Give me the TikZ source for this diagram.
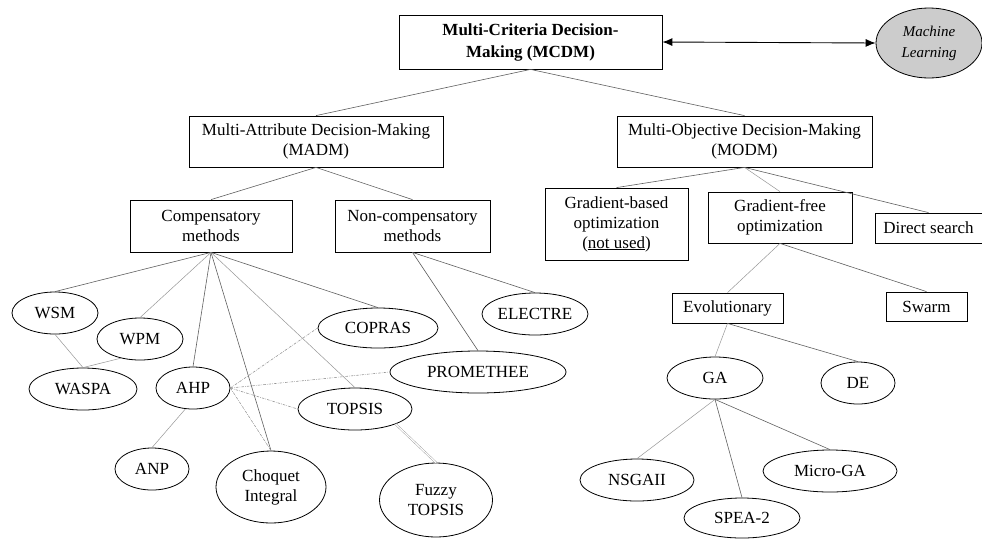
\documentclass[tikz,border=0pt]{standalone}
\usepackage{fontspec}
\setmainfont{Liberation Serif}
\usepackage{tikz}
\usetikzlibrary{arrows.meta,shapes.geometric,positioning}
\definecolor{mlgray}{RGB}{204,204,204}
\definecolor{linegray}{RGB}{95,95,95}
\definecolor{lightline}{RGB}{150,150,150}

\begin{document}
\begin{tikzpicture}[x=1pt, y=-1pt,
    font=\fontsize{17}{20}\selectfont,
    box/.style={draw, rectangle, line width=0.8pt, align=center, inner sep=0pt},
    oval/.style={draw, ellipse, line width=0.8pt, align=center, inner sep=0pt},
    link/.style={draw=linegray, line width=0.6pt},
    faint/.style={draw=lightline, line width=0.5pt},
    dotlink/.style={draw=lightline, line width=0.6pt, dash pattern=on 2.5pt off 1.2pt on 0.6pt off 1.2pt}]
    \useasboundingbox (0,0) rectangle (982,539);

    % Top level
    \node[box, minimum width=263pt, minimum height=54pt, font=\fontsize{17}{22}\selectfont\bfseries] (mcdm) at (530.5,42) {Multi-Criteria Decision-\\Making (MCDM)};
    \node[oval, fill=mlgray, minimum width=106pt, minimum height=70pt, font=\fontsize{15}{21}\selectfont\itshape] (ml) at (929,43) {Machine\\Learning};
    \draw[{Latex[length=10pt,width=8pt]}-{Latex[length=10pt,width=8pt]}, line width=0.9pt] (mcdm.east) -- (ml.west);

    % Second level
    \node[box, minimum width=254pt, minimum height=51pt] (madm) at (316,141.5) {Multi-Attribute Decision-Making\\(MADM)};
    \node[box, minimum width=255pt, minimum height=51pt] (modm) at (744.5,141.5) {Multi-Objective Decision-Making\\(MODM)};
    \draw[link] (mcdm.south) -- (madm.north);
    \draw[link] (mcdm.south) -- (modm.north);

    % MADM branch
    \node[box, minimum width=162pt, minimum height=52pt] (comp) at (211,226) {Compensatory\\methods};
    \node[box, minimum width=155pt, minimum height=52pt] (noncomp) at (412.5,226) {Non-compensatory\\methods};
    \draw[link] (madm.south) -- (comp.north);
    \draw[link] (madm.south) -- (noncomp.north);

    \node[oval, minimum width=86pt, minimum height=42pt] (wsm) at (55,313) {WSM};
    \node[oval, minimum width=86pt, minimum height=42pt] (wpm) at (140,339) {WPM};
    \node[oval, minimum width=108pt, minimum height=42pt] (waspa) at (83,389) {WASPA};
    \node[oval, minimum width=74pt, minimum height=42pt] (ahp) at (193,388) {AHP};
    \node[oval, minimum width=74pt, minimum height=42pt] (anp) at (152,469) {ANP};
    \node[oval, minimum width=110pt, minimum height=72pt] (choquet) at (271,487) {Choquet\\Integral};
    \node[oval, minimum width=120pt, minimum height=40pt] (copras) at (378,328) {COPRAS};
    \node[oval, minimum width=176pt, minimum height=42pt] (prom) at (478,372) {PROMETHEE};
    \node[oval, minimum width=114pt, minimum height=42pt] (topsis) at (355,409) {TOPSIS};
    \node[oval, minimum width=113pt, minimum height=74pt] (fuzzy) at (436,500) {Fuzzy\\TOPSIS};
    \node[oval, minimum width=106pt, minimum height=42pt] (electre) at (535,314) {ELECTRE};

    \draw[link] (comp.south) -- (wsm.north);
    \draw[faint] (comp.south) -- (wpm.north);
    \draw[link] (comp.south) -- (ahp.north);
    \draw[link] (comp.south) -- (choquet.north);
    \draw[faint] (comp.south) -- (topsis.north);
    \draw[link] (comp.south) -- (copras.north);
    \draw[link] (noncomp.south) -- (prom.north);
    \draw[link] (noncomp.south) -- (electre.north);

    \draw[faint] (wsm.south) -- (waspa.north);
    \draw[faint] (wpm.225) -- (waspa.north);
    \draw[faint] (ahp.250) -- (anp.north);
    \draw[dotlink] (ahp.east) -- (copras.west);
    \draw[dotlink] (ahp.east) -- (prom.west);
    \draw[dotlink] (ahp.east) -- (topsis.west);
    \draw[dotlink] (ahp.east) -- (choquet.north);
    \draw[lightline, line width=0.4pt, double=white, double distance=1.2pt] (topsis.south east) -- (fuzzy.north);

    % MODM branch
    \node[box, minimum width=143pt, minimum height=72pt] (gradb) at (616.5,224) {Gradient-based\\optimization\\(\underline{not used})};
    \node[box, minimum width=144pt, minimum height=51pt] (gradf) at (780,217.5) {Gradient-free\\optimization};
    \node[box, minimum width=107pt, minimum height=30pt] (direct) at (928.5,228) {Direct search};
    \draw[link] (modm.south) -- (gradb.north);
    \draw[faint] (modm.south) -- (gradf.north);
    \draw[link] (modm.south) -- (direct.north);

    \node[box, minimum width=111pt, minimum height=30pt] (evo) at (727.5,308) {Evolutionary};
    \node[box, minimum width=81pt, minimum height=29pt] (swarm) at (926.5,306.5) {Swarm};
    \draw[faint] (gradf.south) -- (evo.north);
    \draw[link] (gradf.south) -- (swarm.north);

    \node[oval, minimum width=96pt, minimum height=42pt] (ga) at (715,378) {GA};
    \node[oval, minimum width=74pt, minimum height=42pt] (de) at (858,383) {DE};
    \draw[faint] (evo.south) -- (ga.north);
    \draw[link] (evo.south) -- (de.north);

    \node[oval, minimum width=114pt, minimum height=42pt] (nsga) at (637,480) {NSGAII};
    \node[oval, minimum width=116pt, minimum height=40pt] (spea) at (742,518) {SPEA-2};
    \node[oval, minimum width=134pt, minimum height=42pt] (micro) at (830,471) {Micro-GA};
    \draw[faint] (ga.south) -- (nsga.north);
    \draw[link] (ga.south) -- (spea.north);
    \draw[link] (ga.south) -- (micro.north);
\end{tikzpicture}
\end{document}
